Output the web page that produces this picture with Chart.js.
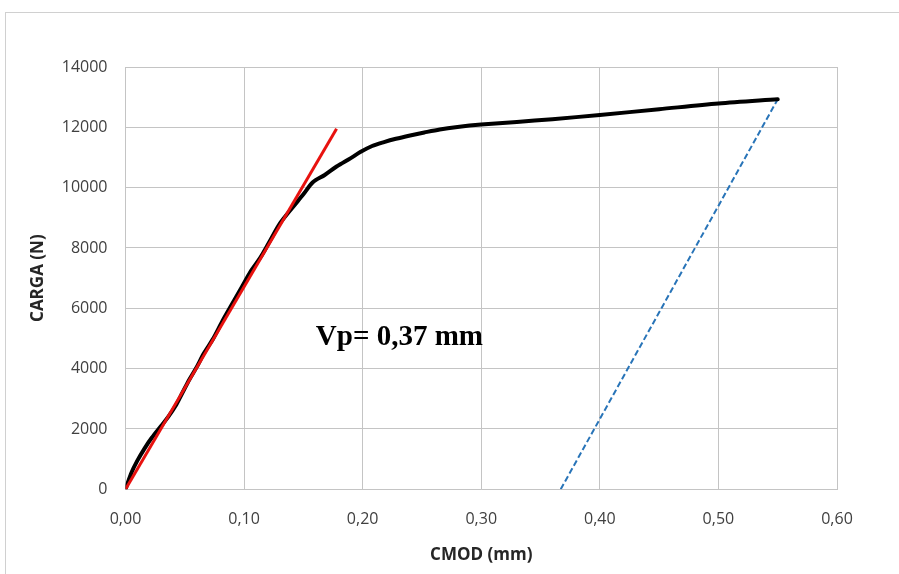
<!DOCTYPE html>
<html>
<head>
<meta charset="utf-8">
<script src="https://cdn.jsdelivr.net/npm/chart.js@4.4.1/dist/chart.umd.min.js"></script>
<style>
  html, body { margin: 0; padding: 0; background: #fff; }
  #wrap { position: relative; width: 899px; height: 574px; overflow: hidden; }
  #frame { position: absolute; left: 5px; top: 12px; width: 1000px; height: 700px; border: 1px solid #d0d0d0; }
  canvas { position: absolute; left: 0; top: 0; }
</style>
</head>
<body>
<div id="wrap">
  <div id="frame"></div>
  <canvas id="mycanvas" width="899" height="574"></canvas>
</div>
<script>
// CMOD (mm) vs carga (N)
var curveX = [0, 0.005, 0.010, 0.016, 0.022, 0.030, 0.036, 0.042, 0.048, 0.054, 0.060, 0.066, 0.074, 0.082, 0.090, 0.098, 0.106, 0.114, 0.122, 0.130, 0.140, 0.150, 0.158, 0.168, 0.178, 0.190, 0.198, 0.208, 0.218, 0.228, 0.240, 0.252, 0.265, 0.280, 0.300, 0.330, 0.360, 0.400, 0.450, 0.500, 0.550];
var curveY = [0, 550, 950, 1350, 1700, 2100, 2400, 2750, 3200, 3650, 4050, 4500, 5000, 5600, 6150, 6700, 7250, 7700, 8250, 8800, 9300, 9780, 10180, 10420, 10700, 10980, 11180, 11380, 11510, 11620, 11730, 11830, 11930, 12010, 12090, 12180, 12270, 12410, 12600, 12790, 12930];

// tangente elastica y descarga paralela
var elasticX = [0, 0.178];
var elasticY = [0, 11950];
var unloadX = [0.367, 0.550];
var unloadY = [0, 12930];

var xTicks = [0, 0.1, 0.2, 0.3, 0.4, 0.5, 0.6];
var yTicks = [0, 2000, 4000, 6000, 8000, 10000, 12000, 14000];

var vpText = 'Vp= 0,37 mm';
var vpAt = { x: 0.1605, y: 4790 };

function pts(xs, ys) {
  var out = [];
  for (var i = 0; i < xs.length; i++) out.push({ x: xs[i], y: ys[i] });
  return out;
}

var gridColor = '#c4c4c4';
var tickFont = { family: "'Open Sans', sans-serif", size: 16 };
var titleFont = { family: "'Open Sans', sans-serif", size: 17, weight: 'bold' };

var vpLabel = {
  id: 'vpLabel',
  afterDatasetsDraw: function(chart) {
    var c = chart.ctx;
    var px = chart.scales.x.getPixelForValue(vpAt.x);
    var py = chart.scales.y.getPixelForValue(vpAt.y);
    c.save();
    c.font = "bold 29px 'Liberation Serif', serif";
    c.fillStyle = '#000';
    c.textAlign = 'left';
    c.textBaseline = 'alphabetic';
    c.fillText(vpText, px, py);
    c.restore();
  }
};

var ctx = document.getElementById('mycanvas');
var chart = new Chart(ctx, {
  type: 'scatter',
  data: {
    datasets: [
      {
        label: 'curva',
        data: pts(curveX, curveY),
        showLine: true,
        borderColor: '#000',
        borderWidth: 4,
        pointRadius: 0,
        tension: 0.3,
        borderCapStyle: 'round',
        borderJoinStyle: 'round',
        order: 2
      },
      {
        label: 'elastica',
        data: pts(elasticX, elasticY),
        showLine: true,
        borderColor: '#e8120f',
        borderWidth: 3,
        pointRadius: 0,
        order: 1
      },
      {
        label: 'descarga',
        data: pts(unloadX, unloadY),
        showLine: true,
        borderColor: '#2874b8',
        borderWidth: 2,
        borderDash: [6, 3],
        pointRadius: 0,
        order: 3
      }
    ]
  },
  options: {
    responsive: false,
    animation: false,
    layout: { padding: { left: 0, right: 62, top: 67, bottom: 0 } },
    plugins: {
      legend: { display: false },
      tooltip: { enabled: false }
    },
    scales: {
      x: {
        type: 'linear',
        min: 0,
        max: 0.6,
        afterBuildTicks: function(s) { s.ticks = xTicks.map(function(v) { return { value: v }; }); },
        afterFit: function(s) { s.height = 84.7; },
        grid: { color: gridColor, drawTicks: false },
        border: { color: gridColor },
        ticks: {
          padding: 21,
          color: '#404040',
          font: tickFont,
          maxRotation: 0,
          callback: function(v) { return v.toFixed(2).replace('.', ','); }
        },
        title: {
          display: true,
          text: 'CMOD (mm)',
          color: '#262626',
          font: titleFont,
          padding: { top: 0, bottom: 9 }
        }
      },
      y: {
        type: 'linear',
        min: 0,
        max: 14000,
        afterBuildTicks: function(s) { s.ticks = yTicks.map(function(v) { return { value: v }; }); },
        afterFit: function(s) { s.width = 125.5; },
        grid: { color: gridColor, drawTicks: false },
        border: { color: gridColor },
        ticks: {
          padding: 18,
          color: '#404040',
          font: tickFont,
          callback: function(v) { return String(v); }
        },
        title: {
          display: true,
          text: 'CARGA (N)',
          color: '#262626',
          font: titleFont,
          padding: { top: 28, bottom: 0 }
        }
      }
    }
  },
  plugins: [vpLabel]
});
</script>
</body>
</html>
